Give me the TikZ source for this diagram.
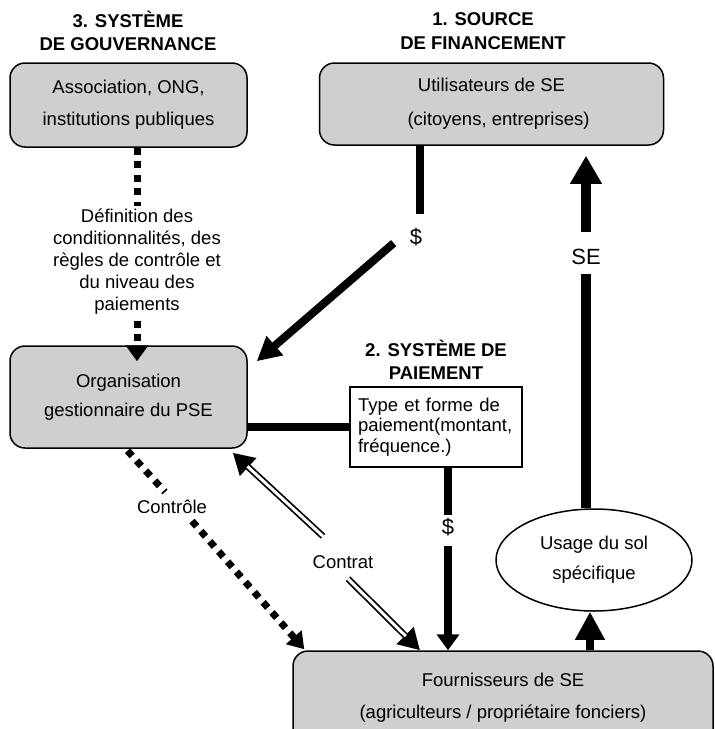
\documentclass[tikz,border=0pt]{standalone}
\usepackage{fontspec}
\setmainfont{Liberation Sans}
\usetikzlibrary{arrows.meta,shapes.geometric,calc}
\definecolor{boxgray}{RGB}{207,207,207}
\begin{document}
\begin{tikzpicture}[x=1pt,y=-1pt,
  txt/.style={font=\fontsize{18.5}{22}\selectfont, align=center},
  box/.style={draw, line width=1.5pt, fill=boxgray, rounded corners=15pt, inner sep=0pt, txt},
  head/.style={font=\fontsize{18.5}{23.5}\selectfont\bfseries, align=center, inner sep=0pt},
  lbl/.style={txt, inner sep=0pt},
  big/.style={font=\fontsize{22}{24}\selectfont, inner sep=0pt},
  thickln/.style={line width=8pt},
  dotln/.style={line width=7pt, dash pattern=on 7pt off 6.5pt},
  bigtip/.style={-{Triangle[length=24pt,width=24pt]}},
  midtip/.style={-{Triangle[length=16pt,width=22pt]}},
  dblout/.style={line width=6.5pt, -{Triangle[length=21pt,width=23pt]}},
  dblin/.style={white, line width=3pt, shorten >=20pt}
]
\useasboundingbox (0,0) rectangle (715,729);

% headings
\node[head] (h3) at (128,31) {3. SYSTÈME\\DE GOUVERNANCE};
\node[head] (h1) at (483,31) {1. SOURCE\\DE FINANCEMENT};
\node[head] (h2) at (436,360) {2. SYSTÈME DE\\PAIEMENT};

% boxes
\node[box, minimum width=237pt, minimum height=84pt] (A) at (128.5,105) {Association, ONG,\\[10pt]institutions publiques};
\node[box, minimum width=344pt, minimum height=82pt] (U) at (491.5,104) {Utilisateurs de SE\\[12pt]\hspace*{14pt}(citoyens, entreprises)};
\node[box, minimum width=237pt, minimum height=102pt] (O) at (128.5,397) {Organisation\\[7pt]gestionnaire du PSE};
\node[draw, line width=1.2pt, fill=white, minimum width=172pt, minimum height=80pt, inner sep=0pt,
      text width=156pt, align=left, font=\fontsize{18.5}{20.5}\selectfont] (T) at (436,427)
      {Type et forme de\\paiement(montant,\\fréquence.)};
\node[box, minimum width=420pt, minimum height=94pt] (F) at (503,698) {Fournisseurs de SE\\[10pt](agriculteurs / propriétaire fonciers)};
\node[draw, ellipse, line width=1.5pt, minimum width=196pt, minimum height=102pt, inner sep=0pt, txt] (E) at (594,560) {Usage du sol\\[8pt]spécifique};

% labels
\node[lbl] (def) at (137,262) {Définition des\\conditionnalités, des\\règles de contrôle et\\du niveau des\\paiements};
\node[big] (d1) at (416,237) {\$};
\node[big] (se) at (586,257) {SE};
\node[big] (d2) at (448,527) {\$};
\node[lbl] (ctl) at (172,507) {Contrôle};
\node[lbl] (ctr) at (343,562) {Contrat};

% governance dotted link
\draw[dotln] (A.south -| def) -- ([yshift=3pt]def.north);
\draw[dotln, midtip] ([yshift=-6pt]def.south) -- ($(O.north -| def)+(0,16)$);

% finance
\draw[thickln] (U.south -| 420,0) -- ([yshift=14pt]d1.north -| 420,0);
\draw[thickln, bigtip] ($(d1.south west)+(-16,-3)$) -- ($(O.north east)+(9,16)$);

% services
\draw[line width=10pt] (E.north -| se) -- ([yshift=-9pt]se.south);
\draw[line width=10pt, -{Triangle[length=28pt,width=30pt]}] ([yshift=17pt]se.north) -- ($(U.south -| se)+(0,10)$);
\draw[thickln, -{Triangle[length=28pt,width=28pt]}] (F.north -| 590,0) -- (E.south -| 590,0);

% payment
\draw[thickln] (T.west -| O.east) -- (T.west);
\draw[thickln] (T.south -| d2) -- ([yshift=3pt]d2.north);
\draw[thickln, midtip] ([yshift=-10pt]d2.south) -- (F.north -| d2);

% contrat (double line with solid tips)
\coordinate (c1) at ($(ctr.north)+(-20,-19)$);
\coordinate (c2) at ($(ctr.south)+(5,10)$);
\coordinate (c1e) at ($(O.south east)+(-15,4)$);
\coordinate (c2e) at (F.north -| 420,0);
\draw[dblout] (c1) -- (c1e);
\draw[dblin] (c1) -- (c1e);
\draw[dblout] (c2) -- (c2e);
\draw[dblin] (c2) -- (c2e);

% controle (dotted)
\draw[dotln] ($(O.south)+(-1,2)$) -- ($(ctl.north)+(-7,-8)$);
\draw[dotln, -{Triangle[length=16pt,width=20pt]}] ($(ctl.south)+(20,7)$) -- ($(F.north west)+(12,-1)$);
\end{tikzpicture}
\end{document}
